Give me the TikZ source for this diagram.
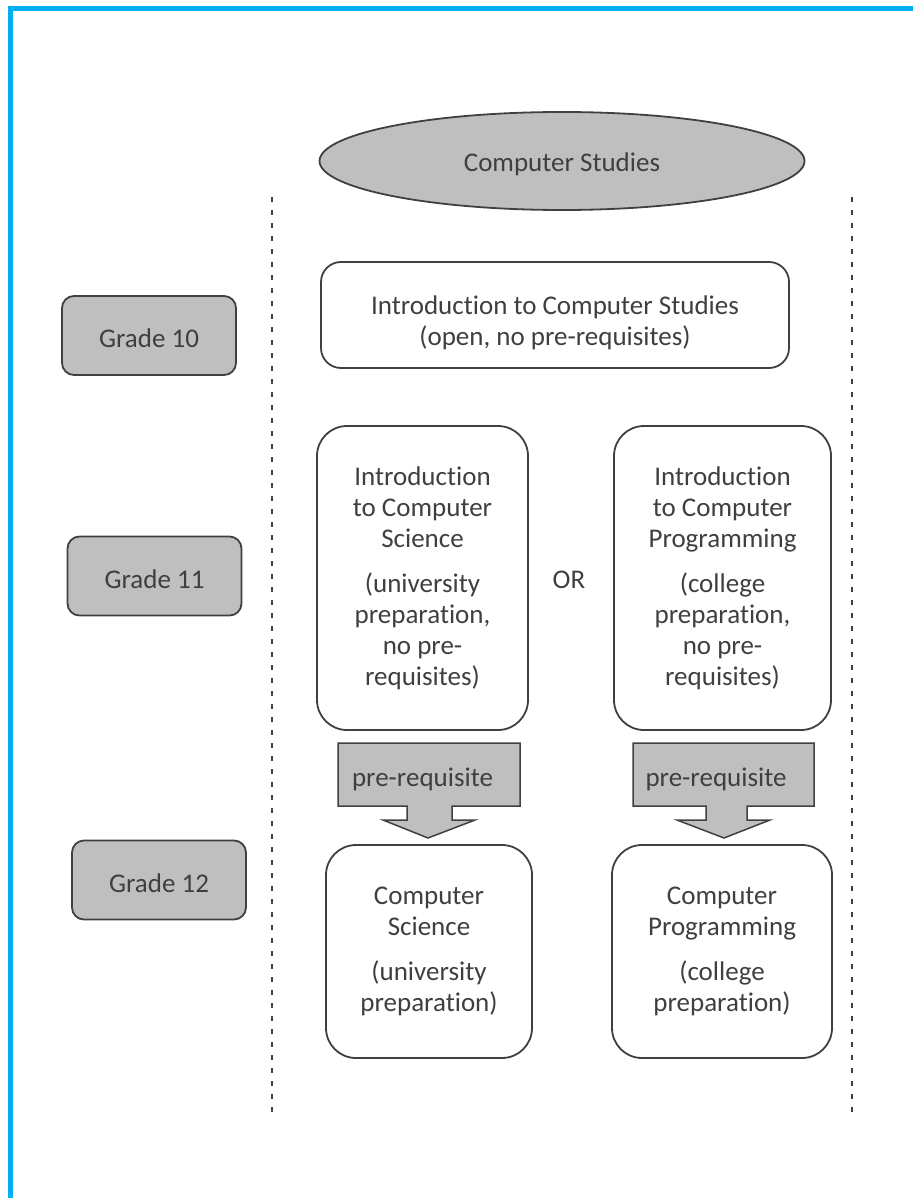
\documentclass[tikz,border=0pt]{standalone}
\usepackage{fontspec}
\setmainfont{Carlito}[Ligatures=NoCommon]
\usetikzlibrary{shapes.geometric,positioning}
\definecolor{boxgray}{HTML}{BFBFBF}
\definecolor{linegray}{HTML}{404040}
\definecolor{txtgray}{HTML}{3F3F3F}
\definecolor{frameblue}{HTML}{00B0F0}
\tikzset{
  course/.style={rectangle,rounded corners=30pt,draw=linegray,line width=1.8pt,align=center,inner sep=0pt},
  grade/.style={rectangle,rounded corners=12pt,draw=linegray,fill=boxgray,line width=1.8pt,minimum width=174pt,minimum height=79pt},
  prereq/.style={draw=linegray,fill=boxgray,line width=1.5pt,line join=miter},
  divider/.style={linegray,line width=2pt,dash pattern=on 5pt off 8pt}
}
\begin{document}
\begin{tikzpicture}[x=1pt,y=-1pt,every node/.style={font=\fontsize{27}{31}\selectfont,text=txtgray}]
	\useasboundingbox (0,0) rectangle (912,1198);
	% frame
	\draw[frameblue,line width=5pt] (10.5,1200) -- (10.5,8.5) -- (914,8.5);
	% column dividers
	\coordinate (ltop) at (272,197);
	\coordinate (lbot) at (272,1113);
	\coordinate (rtop) at (852,197);
	\coordinate (rbot) at (852,1113);
	\draw[divider] (ltop) -- (lbot);
	\draw[divider] (rtop) -- (rbot);
	% title
	\node [ellipse,draw=linegray,fill=boxgray,line width=1.8pt,minimum width=485pt,minimum height=98pt] (studies) at (562,161) {\raisebox{-3pt}[\height][\depth]{Computer Studies}};
	% grades
	\node [grade] (grade10) at (149,335.5) {\raisebox{-3pt}[\height][\depth]{Grade 10}};
	\node [grade] (grade11) at (154.5,576) {\raisebox{-3pt}[\height][\depth]{Grade 11}};
	\node [grade] (grade12) at (159,880) {\raisebox{-3pt}[\height][\depth]{Grade 12}};
	% courses
	\node [course,rounded corners=20pt,minimum width=468pt,minimum height=106pt] (intro) at (555,315) {\raisebox{-9pt}[\height][\depth]{\begin{tabular}{@{}c@{}}Introduction to Computer Studies\\(open, no pre-requisites)\end{tabular}}};
	\node [course,minimum width=211pt,minimum height=304pt] (introcs) at (422.5,578) {Introduction\\to Computer\\Science\\[14pt](university\\preparation,\\no pre-\\requisites)};
	\node [course,minimum width=217pt,minimum height=304pt] (introprog) at (722.5,578) {Introduction\\to Computer\\Programming\\[14pt](college\\preparation,\\no pre-\\requisites)};
	\node (or) at (569,580) {OR};
	\node [course,minimum width=206pt,minimum height=213pt] (cs) at (429,951.5) {Computer\\Science\\[14pt](university\\preparation)};
	\node [course,minimum width=220pt,minimum height=213pt] (prog) at (722,951.5) {Computer\\Programming\\[14pt](college\\preparation)};
	% pre-requisite arrows
	\draw[prereq] (338,743) -- (520,743) -- (520,806) -- (452,806) -- (452,820) -- (475,820) -- (428,838) -- (383,820) -- (407,820) -- (407,806) -- (338,806) -- cycle;
	\draw[prereq] (633,743) -- (814,743) -- (814,806) -- (747,806) -- (747,820) -- (770,820) -- (724,838) -- (677,820) -- (706,820) -- (706,806) -- (633,806) -- cycle;
	\node (req1) at (422.5,779) {pre-requisite};
	\node (req2) at (716,779) {pre-requisite};
\end{tikzpicture}
\end{document}
